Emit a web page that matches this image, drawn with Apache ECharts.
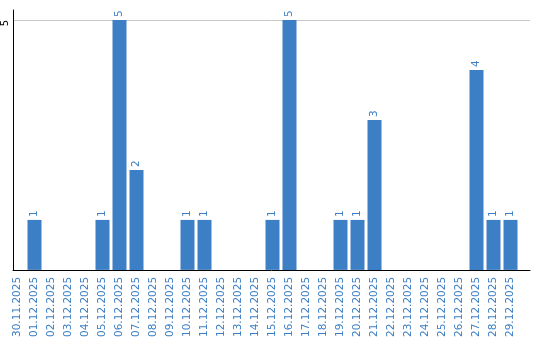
<!DOCTYPE html>
<html><head><meta charset="utf-8">
<script src="https://cdn.jsdelivr.net/npm/echarts@6/dist/echarts.min.js"></script>
<style>html,body{margin:0;padding:0;background:#fff}#c{width:540px;height:340px}</style>
</head><body><div id="c"></div>
<script>
var categories = ['30.11.2025','01.12.2025','02.12.2025','03.12.2025','04.12.2025','05.12.2025','06.12.2025','07.12.2025','08.12.2025','09.12.2025','10.12.2025','11.12.2025','12.12.2025','13.12.2025','14.12.2025','15.12.2025','16.12.2025','17.12.2025','18.12.2025','19.12.2025','20.12.2025','21.12.2025','22.12.2025','23.12.2025','24.12.2025','25.12.2025','26.12.2025','27.12.2025','28.12.2025','29.12.2025'];
var values = [0,1,0,0,0,1,5,2,0,0,1,1,0,0,0,1,5,0,0,1,1,3,0,0,0,0,0,4,1,1];
var yTickLabels = [5];

var blue = '#3d7fc4';
var font = 'DejaVu Sans';
var chart = echarts.init(document.getElementById('c'), null, {renderer:'canvas'});
chart.setOption({
  animation: false,
  grid: [
    {left: 10, right: 10, top: 10, bottom: 70},
    {left: 9, width: 510, top: 10, bottom: 70}
  ],
  xAxis: [
    {type: 'value', gridIndex: 0, min: 0, max: 1,
     axisLine: {show: true, onZero: false, lineStyle: {color: '#000', width: 1}},
     axisTick: {show: false}, axisLabel: {show: false}, splitLine: {show: false}},
    {type: 'category', gridIndex: 1, data: categories,
     axisLine: {show: false}, axisTick: {show: false}, splitLine: {show: false},
     axisLabel: {interval: 0, rotate: 90, color: blue, fontFamily: font, fontSize: 10.5, margin: 7}}
  ],
  yAxis: [
    {type: 'value', gridIndex: 0, min: 0, max: 5.2, interval: 5,
     axisLine: {show: true, lineStyle: {color: '#000', width: 1}},
     axisTick: {show: false},
     axisLabel: {rotate: 90, align: 'right', verticalAlign: 'bottom', color: '#000', fontFamily: font, fontSize: 10, margin: 3,
       formatter: function(v){ return yTickLabels.indexOf(v) >= 0 ? String(v) : ''; }},
     splitLine: {show: true, showMinLine: false, showMaxLine: false, lineStyle: {color: '#c8c8c8', width: 1}}},
    {type: 'value', gridIndex: 1, min: 0, max: 5.2, show: false}
  ],
  series: [{
    type: 'bar', xAxisIndex: 1, yAxisIndex: 1,
    data: values, barWidth: 14,
    itemStyle: {color: blue},
    label: {show: true, position: 'top', rotate: 90, align: 'left', verticalAlign: 'middle',
      distance: 3, color: blue, fontFamily: font, fontSize: 10.5,
      formatter: function(p){ return p.value ? String(p.value) : ''; }}
  }]
});
</script></body></html>
